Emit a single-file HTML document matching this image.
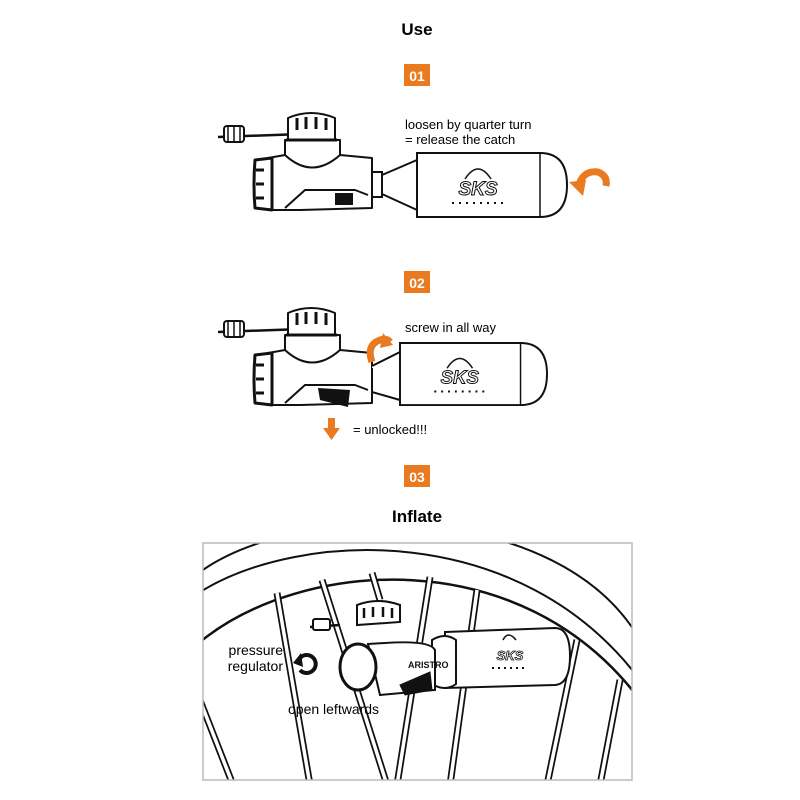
<!DOCTYPE html>
<html><head><meta charset="utf-8"><style>
html,body{margin:0;padding:0;background:#fff;width:800px;height:800px;overflow:hidden}
svg{display:block}
text{font-family:"Liberation Sans","DejaVu Sans",sans-serif}
</style></head><body>
<svg width="800" height="800" viewBox="0 0 800 800" xmlns="http://www.w3.org/2000/svg">
<defs>
<g id="head" fill="#fff" stroke="#111" stroke-width="2" stroke-linejoin="round">
  <path d="M218 137 L330 133" stroke-width="2.5"/>
  <rect x="224" y="126" width="20" height="16" rx="3"/>
  <path d="M228 127v14M234 127v14M240 127v14" stroke-width="1.5"/>
  <path d="M285 140 L285 160 Q312 185 340 160 L340 140 Z"/>
  <path d="M288 140 L288 118 Q311 108 335 118 L335 140 Z"/>
  <path d="M297 118v12M306 117v12M316 117v12M326 118v12" stroke-width="3"/>
  <path d="M286 140 L337 140" stroke-width="3"/>
  <path d="M268 158 L285 155 Q312 180 340 155 L372 158 L372 208 L300 210 L268 210 Z"/>
  <path d="M285 208 L305 190 L355 190 L368 195" stroke-width="2"/>
  <path d="M255 160 Q253 185 255 208 L272 210 L272 158 Z" stroke-width="3"/>
  <path d="M256 170h8M256 184h8M256 198h8" stroke-width="3"/>
</g>
<g id="cart" fill="#fff" stroke="#111" stroke-width="2">
  <path d="M0 0 L123 0 Q150 0 150 32 Q150 64 123 64 L0 64 Z"/>
  <path d="M123 0 L123 64" stroke-width="1.5"/>
  <path d="M48 26 Q61 6 74 26" stroke-width="1.5"/>
  <text x="61" y="42" font-size="19" font-weight="bold" font-style="italic" text-anchor="middle" fill="#fff" stroke="#111" stroke-width="1">SKS</text>
  <path d="M35 50h52" stroke-dasharray="2 5" stroke-width="2"/>
</g>
</defs>

<text x="417" y="35" font-size="17" font-weight="bold" text-anchor="middle">Use</text>

<rect x="404" y="64" width="26" height="22" fill="#e97a1f"/>
<text x="417" y="81" font-size="14" font-weight="bold" fill="#fff" text-anchor="middle">01</text>
<use href="#head"/>
<path d="M372 172 L382 172 L382 197 L372 197 Z M382 175 L417 160 L417 210 L382 194" fill="#fff" stroke="#111" stroke-width="2"/>
<rect x="335" y="193" width="18" height="12" fill="#111"/>
<use href="#cart" transform="translate(417 153)"/>
<text x="405" y="129" font-size="13">loosen by quarter turn</text>
<text x="405" y="144" font-size="13">= release the catch</text>
<path d="M578 188 Q582 170 598 172 Q608 176 606 186" fill="none" stroke="#e97a1f" stroke-width="7"/>
<path d="M569 182 L583 196 L586 180 Z" fill="#e97a1f"/>

<rect x="404" y="271" width="26" height="22" fill="#e97a1f"/>
<text x="417" y="288" font-size="14" font-weight="bold" fill="#fff" text-anchor="middle">02</text>
<use href="#head" transform="translate(0 195)"/>
<path d="M372 368 L372 393 M372 366 L400 352 L400 400 L372 392" fill="#fff" stroke="#111" stroke-width="2"/>
<path d="M318 388 L350 390 L348 407 L320 400 Z" fill="#111"/>
<use href="#cart" transform="translate(400 343) scale(0.98 0.97)"/>
<text x="405" y="332" font-size="13">screw in all way</text>
<path d="M372 362 Q366 345 380 340 Q387 338 390 342" fill="none" stroke="#e97a1f" stroke-width="7"/>
<path d="M383 333 L393 345 L380 348 Z" fill="#e97a1f"/>
<rect x="328" y="418" width="7" height="12" fill="#e97a1f"/>
<path d="M323 428 L340 428 L331.5 440 Z" fill="#e97a1f"/>
<text x="353" y="434" font-size="13">= unlocked!!!</text>

<rect x="404" y="465" width="26" height="22" fill="#e97a1f"/>
<text x="417" y="482" font-size="14" font-weight="bold" fill="#fff" text-anchor="middle">03</text>
<text x="417" y="522" font-size="17" font-weight="bold" text-anchor="middle">Inflate</text>

<clipPath id="fr"><rect x="203" y="543" width="429" height="237"/></clipPath>
<g clip-path="url(#fr)" fill="none" stroke="#111">
  <path d="M200 572 C 300 500, 560 500, 640 640" stroke-width="2"/>
  <path d="M200 592 C 300 530, 520 520, 640 680" stroke-width="2"/>
  <path d="M200 642 C 300 560, 520 540, 640 700" stroke-width="2.5"/>
  <g stroke-width="7"><path d="M277 593 L310 785 M322 580 L387 785 M372 573 L380 600 M430 577 L397 785 M477 590 L450 785 M577 640 L547 785 M620 680 L600 785 M196 690 L233 785"/></g>
  <g stroke="#fff" stroke-width="3.5"><path d="M277 593 L310 785 M322 580 L387 785 M372 573 L380 600 M430 577 L397 785 M477 590 L450 785 M577 640 L547 785 M620 680 L600 785 M196 690 L233 785"/></g>
  <path d="M445 632 L555 628 Q570 628 570 656 Q570 684 555 685 L445 688 Z" fill="#fff" stroke-width="2"/>
  <path d="M432 640 Q445 632 456 640 L456 684 Q445 692 432 684 Z" fill="#fff" stroke-width="2"/>
  <path d="M503 640 Q508 630 516 640" stroke-width="1.5"/>
  <text x="510" y="660" font-size="13" font-weight="bold" font-style="italic" text-anchor="middle" fill="#fff" stroke="#111" stroke-width="0.8">SKS</text>
  <path d="M492 668h36" stroke-dasharray="2 4" stroke-width="2"/>
  <path d="M310 627 L340 625" stroke-width="2.5"/>
  <rect x="313" y="619" width="17" height="11" rx="2" fill="#fff" stroke-width="2"/>
  <path d="M357 625 L357 605 Q378 597 400 605 L400 622 Z" fill="#fff" stroke-width="2"/>
  <path d="M364 608v10M373 607v10M383 607v10M392 608v10" stroke-width="2.5"/>
  <path d="M368 644 L385 643 Q430 640 435 650 L435 690 L380 695 Z" fill="#fff" stroke-width="2"/>
  <path d="M400 685 L430 672 L432 690 L405 695 Z" fill="#111"/>
  <ellipse cx="358" cy="667" rx="18" ry="23" fill="#fff" stroke-width="3"/>
  <text x="408" y="668" font-size="9" font-weight="bold" fill="#111" stroke="none">ARISTRO</text>
</g>
<rect x="203" y="543" width="429" height="237" fill="none" stroke="#bbb" stroke-width="1.5"/>
<text x="283" y="655" font-size="14" text-anchor="end">pressure</text>
<text x="283" y="671" font-size="14" text-anchor="end">regulator</text>
<path d="M300 658 A9 9 0 1 1 300 670" fill="none" stroke="#111" stroke-width="4"/>
<path d="M293 663 L301 653 L303 667 Z" fill="#111"/>
<text x="288" y="714" font-size="14">open leftwards</text>
</svg>
</body></html>
